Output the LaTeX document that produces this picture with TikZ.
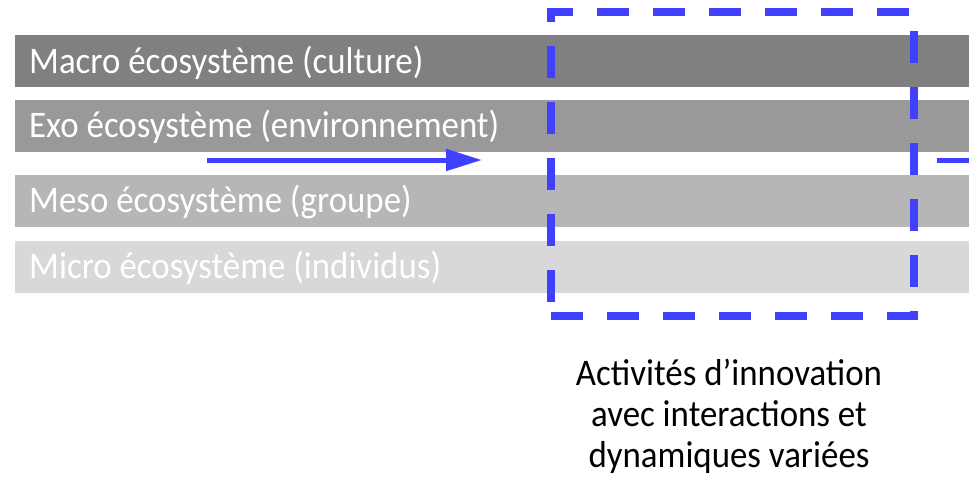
\documentclass[tikz,border=0pt]{standalone}
\usepackage{fontspec}
\setmainfont{Carlito}[FakeStretch=0.93]
\usetikzlibrary{arrows.meta}
\definecolor{arrowblue}{RGB}{64,64,255}
\definecolor{bandA}{RGB}{128,128,128}
\definecolor{bandB}{RGB}{153,153,153}
\definecolor{bandC}{RGB}{182,182,182}
\definecolor{bandD}{RGB}{216,216,216}
\tikzset{
  band/.style={fill=#1, draw=none, anchor=north west, minimum width=954pt, minimum height=52pt, inner sep=0pt, outer sep=0pt},
  bandtext/.style={anchor=base west, text=white, font=\fontsize{37.5}{41}\selectfont, inner sep=0pt},
  flow/.style={draw=arrowblue, line width=5pt},
}
\begin{document}
\begin{tikzpicture}[x=1pt,y=-1pt]
\useasboundingbox (0,0) rectangle (969,477);
\node[band=bandA] (macro) at (15,35) {};
\node[band=bandB] (exo) at (15,100) {};
\node[band=bandC] (meso) at (15,175) {};
\node[band=bandD] (micro) at (15,241) {};
\node[bandtext] (tmacro) at (29,73) {Macro écosystème (culture)};
\node[bandtext] (texo) at (29,137) {Exo écosystème (environnement)};
\node[bandtext] (tmeso) at (29,212) {Meso écosystème (groupe)};
\node[bandtext] (tmicro) at (29,278) {Micro écosystème (individus)};
\coordinate (astart) at (207,160);
\coordinate (aend) at (482,160);
\draw[flow, -{Triangle[length=36pt,width=21pt]}] (astart) -- (aend);
\coordinate (bstart) at (937,160);
\coordinate (bend) at (969,160);
\draw[flow] (bstart) -- (bend);
\node[draw=arrowblue, line width=7.5pt, dash pattern=on 32pt off 24pt, anchor=north west, minimum width=363pt, minimum height=304pt, inner sep=0pt, outer sep=0pt] (box) at (551,12) {};
\node[anchor=base, align=center, font=\fontsize{37.5}{41}\selectfont, inner sep=0pt] (label) at (729,467) {Activités d’innovation\\avec interactions et\\dynamiques variées};
\end{tikzpicture}
\end{document}
